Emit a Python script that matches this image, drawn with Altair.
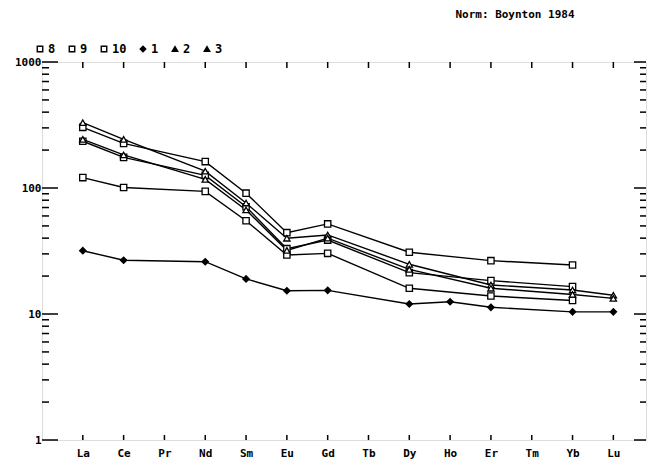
import json
import altair as alt
import pandas as pd

# ---- data ----
elements = ["La", "Ce", "Pr", "Nd", "Sm", "Eu", "Gd", "Tb", "Dy", "Ho", "Er", "Tm", "Yb", "Lu"]
series_names = ["8", "9", "10", "1", "2", "3"]
s8 = [303, 226, None, 162, 91, 44.2, 51.9, None, 30.9, None, 26.5, None, 24.5, None]
s9 = [235, 175, None, 126, 71, 33.0, 38.6, None, 21.3, None, 18.4, None, 16.5, None]
s10 = [121, 101, None, 94, 55, 29.4, 30.3, None, 16.0, None, 13.9, None, 12.8, None]
s1 = [31.8, 26.7, None, 26, 19, 15.3, 15.4, None, 12.0, 12.5, 11.3, None, 10.4, 10.4]
s2 = [330, 243, None, 136, 76, 39.9, 42.4, None, 24.8, None, 17.0, None, 15.5, 14.1]
s3 = [243, 183, None, 117, 67, 32.0, 40.0, None, 22.6, None, 16.0, None, 14.3, 13.3]
series_values = [s8, s9, s10, s1, s2, s3]
shapes = ["square", "square", "square", "diamond", "triangle-up", "triangle-up"]
fills = ["white", "white", "white", "black", "black", "black"]
point_fills = ["white", "white", "white", "black", "white", "white"]
major_ticks = [1, 10, 100, 1000]
minor_ticks = [m * 10 ** d for d in range(3) for m in range(2, 10)]
norm_text = "Norm: Boynton 1984"

rows = []
for name, vals in zip(series_names, series_values):
    for i, v in enumerate(vals):
        if v is not None:
            rows.append({"series": name, "idx": i + 1, "value": v})
df = pd.DataFrame(rows)

W, H = 604, 378
FONT = "DejaVu Sans Mono"

xscale = alt.Scale(domain=[0, 14.8], nice=False, zero=False)
yscale = alt.Scale(type="log", domain=[1, 1000], nice=False)

label_expr = json.dumps(elements) + "[datum.value - 1]"
x_axis = alt.Axis(values=list(range(1, 15)), labelExpr=label_expr, tickSize=0, domain=False,
                  grid=False, title=None, labelFont=FONT, labelFontWeight="bold",
                  labelFontSize=11, labelPadding=7, labelColor="black")
y_axis = alt.Axis(values=major_ticks, format="d", tickSize=0, domain=False, grid=False,
                  title=None, labelFont=FONT, labelFontWeight="bold", labelFontSize=11,
                  labelPadding=1, labelColor="black", labelBaseline="middle")

base = alt.Chart(df)
lines = base.mark_line(color="black", strokeWidth=1.4).encode(
    x=alt.X("idx:Q", scale=xscale, axis=x_axis),
    y=alt.Y("value:Q", scale=yscale, axis=y_axis),
    detail="series:N",
)

legend = alt.Legend(orient="none", legendX=-8, legendY=-19, direction="horizontal",
                    columns=6, title=None, labelFont=FONT, labelFontWeight="bold",
                    labelFontSize=12, labelColor="black",
                    symbolStrokeWidth=1.4, symbolSize=30, labelOffset=2, columnPadding=10,
                    symbolOpacity=1)

# legend-only layer (filled triangles as in the printed key)
legend_layer = base.mark_point(opacity=0, strokeWidth=1.3, size=40).encode(
    x=alt.X("idx:Q", scale=xscale, axis=x_axis),
    y=alt.Y("value:Q", scale=yscale, axis=y_axis),
    shape=alt.Shape("series:N", scale=alt.Scale(domain=series_names, range=shapes),
                    sort=series_names, legend=legend),
    fill=alt.Fill("series:N", scale=alt.Scale(domain=series_names, range=fills),
                  sort=series_names, legend=legend),
    stroke=alt.Stroke("series:N", scale=alt.Scale(domain=series_names, range=["black"] * 6),
                      sort=series_names, legend=legend),
)

# visible markers on the lines
marker_layers = []
for name, shp, fl in zip(series_names, shapes, point_fills):
    marker_layers.append(
        alt.Chart(df[df["series"] == name]).mark_point(
            shape=shp, fill=fl, stroke="black", strokeWidth=1.3, opacity=1, fillOpacity=1, size=40
        ).encode(
            x=alt.X("idx:Q", scale=xscale, axis=x_axis),
            y=alt.Y("value:Q", scale=yscale, axis=y_axis),
        )
    )

# inward ticks on left and right
major_df = pd.DataFrame({"value": major_ticks})
minor_df = pd.DataFrame({"value": minor_ticks})
def yrule(d, x0, x1):
    return alt.Chart(d).mark_rule(color="black", strokeWidth=1.5).encode(
        y=alt.Y("value:Q", scale=yscale, axis=y_axis), x=alt.value(x0), x2=alt.value(x1))

left_major = yrule(major_df, 0, 16)
left_minor = yrule(minor_df, 0, 7)
right_major = yrule(major_df, W - 12, W)
right_minor = yrule(minor_df, W - 6, W)

cat_df = pd.DataFrame({"idx": list(range(1, 15))})
top_ticks = alt.Chart(cat_df).mark_rule(color="black", strokeWidth=1.5).encode(
    x=alt.X("idx:Q", scale=xscale, axis=x_axis), y=alt.value(0), y2=alt.value(6))
bottom_ticks = alt.Chart(cat_df).mark_rule(color="black", strokeWidth=1.5).encode(
    x=alt.X("idx:Q", scale=xscale, axis=x_axis), y=alt.value(H - 5), y2=alt.value(H))

title = alt.Chart(pd.DataFrame({"t": [norm_text]})).mark_text(
    font=FONT, fontWeight="bold", fontSize=11, color="black", align="center", baseline="middle"
).encode(text="t:N", x=alt.value(473), y=alt.value(-47))

chart = alt.layer(
    lines, legend_layer, *marker_layers, left_major, left_minor, right_major, right_minor,
    top_ticks, bottom_ticks, title
).properties(
    width=W, height=H, autosize="none",
    padding={"left": 42, "top": 62, "right": 3, "bottom": 22},
).configure_view(stroke="black", strokeWidth=2).configure(background="white")

chart.save("out.html", embed_options={"renderer": "svg", "actions": False})
